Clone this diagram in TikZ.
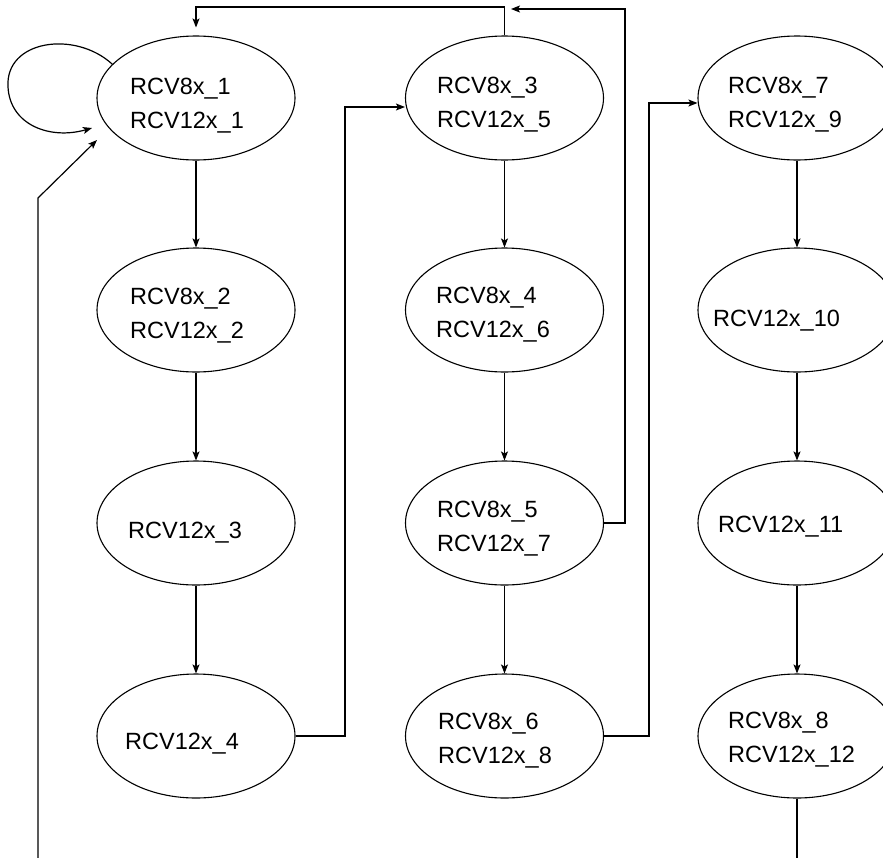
\documentclass[tikz,border=0pt]{standalone}
\usepackage{fontspec}
\setmainfont{Liberation Sans}
\usetikzlibrary{arrows.meta,shapes.geometric}
\newcommand\twoline[2]{\begin{tabular}[t]{@{}l@{}}#1\\#2\end{tabular}}
\begin{document}
\begin{tikzpicture}[x=1pt,y=-1pt,
  st/.style={draw,ellipse,minimum width=198pt,minimum height=124pt,inner sep=0pt,line width=1.1pt},
  lbl/.style={anchor=base west,inner sep=0pt,font=\fontsize{23.5}{34}\selectfont},
  con/.style={line width=1.2pt},
  arr/.style={con,-{Stealth[length=9pt,width=7pt,inset=2pt]}}]
\useasboundingbox (0,0) rectangle (883,857);
\clip (0,0) rectangle (883,857);
\fill[white] (0,0) rectangle (883,857);
% column 1
\node[st] (a1) at (196,98) {};
\node[st] (a2) at (196,310) {};
\node[st] (a3) at (196,523) {};
\node[st] (a4) at (196,736) {};
\node[lbl] (ta1) at (130,94) {\twoline{RCV8x\_1}{RCV12x\_1}};
\node[lbl] (ta2) at (130,304) {\twoline{RCV8x\_2}{RCV12x\_2}};
\node[lbl] (ta3) at (128,538) {RCV12x\_3};
\node[lbl] (ta4) at (125,749) {RCV12x\_4};
% column 2
\node[st] (b1) at (504.5,98) {};
\node[st] (b2) at (504.5,310) {};
\node[st] (b3) at (504.5,523) {};
\node[st] (b4) at (504.5,736) {};
\node[lbl] (tb1) at (437,93) {\twoline{RCV8x\_3}{RCV12x\_5}};
\node[lbl] (tb2) at (436,303) {\twoline{RCV8x\_4}{RCV12x\_6}};
\node[lbl] (tb3) at (437,517) {\twoline{RCV8x\_5}{RCV12x\_7}};
\node[lbl] (tb4) at (438,729) {\twoline{RCV8x\_6}{RCV12x\_8}};
% column 3
\node[st] (c1) at (797,98) {};
\node[st] (c2) at (797,310) {};
\node[st] (c3) at (797,523) {};
\node[st] (c4) at (797,736) {};
\node[lbl] (tc1) at (728,93) {\twoline{RCV8x\_7}{RCV12x\_9}};
\node[lbl] (tc2) at (713,326) {RCV12x\_10};
\node[lbl] (tc3) at (718,532) {RCV12x\_11};
\node[lbl] (tc4) at (728,728) {\twoline{RCV8x\_8}{RCV12x\_12}};
% vertical arrows
\draw[arr] (a1) -- (a2);
\draw[arr] (a2) -- (a3);
\draw[arr] (a3) -- (a4);
\draw[arr] (b1) -- (b2);
\draw[arr] (b2) -- (b3);
\draw[arr] (b3) -- (b4);
\draw[arr] (c1) -- (c2);
\draw[arr] (c2) -- (c3);
\draw[arr] (c3) -- (c4);
\coordinate (p5) at (797,875);
\draw[con] (c4.south) -- (p5);
% cross connectors
\coordinate (p1) at (345,107);
\draw[arr] (a4.east) -| (p1) -- (p1 -| b1.west);
\coordinate (p2) at (196,7);
\draw[arr,shorten >=8pt] (b1.north) |- (p2) -- (a1.north);
\coordinate (p3) at (625,9);
\coordinate (q3) at (511,9);
\draw[arr] (b3.east) -| (p3) -- (q3);
\coordinate (p4) at (649,103);
\draw[arr] (b4.east) -| (p4) -- (p4 -| c1.west);
% self loop
\coordinate (s2) at (92,128);
\draw[arr] (a1.158) .. controls (75,30) and (5,40) .. (8,87) .. controls (10,125) and (50,140) .. (s2);
% incoming from below
\coordinate (s3) at (38,875);
\coordinate (s4) at (38,198);
\coordinate (s5) at (97,140);
\draw[arr] (s3) -- (s4) -- (s5);
\end{tikzpicture}
\end{document}
